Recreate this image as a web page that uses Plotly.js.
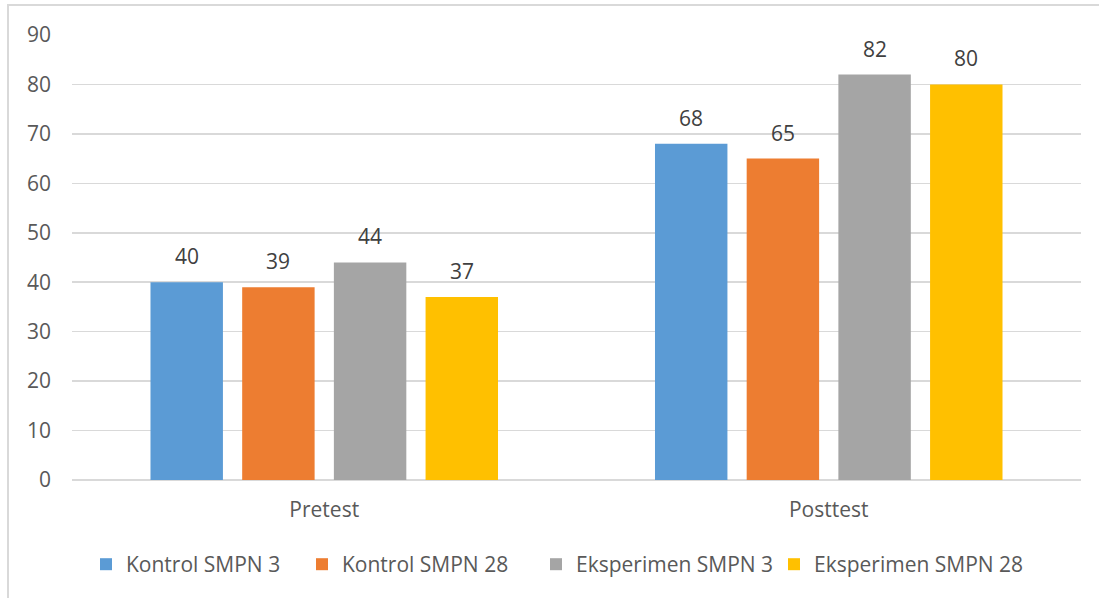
<!DOCTYPE html>
<html>
<head>
<meta charset="utf-8">
<script src="https://cdn.plot.ly/plotly-3.0.1.min.js"></script>
<style>
  html, body { margin: 0; padding: 0; background: #ffffff; }
  #wrap { position: relative; width: 1099px; height: 598px; overflow: hidden; }
  #frame { position: absolute; left: 7px; top: 4px; width: 1200px; height: 700px;
           border-left: 2px solid #d9d9d9; border-top: 2px solid #d9d9d9; }
  #chart { position: absolute; left: 0; top: 0; width: 1099px; height: 598px; }
</style>
</head>
<body>
<div id="wrap">
  <div id="frame"></div>
  <div id="chart"></div>
</div>
<script>
const categories = ["Pretest", "Posttest"];
const seriesNames = ["Kontrol SMPN 3", "Kontrol SMPN 28", "Eksperimen SMPN 3", "Eksperimen SMPN 28"];
const kontrolSMPN3 = [40, 68];
const kontrolSMPN28 = [39, 65];
const eksperimenSMPN3 = [44, 82];
const eksperimenSMPN28 = [37, 80];
const yTicks = [0, 10, 20, 30, 40, 50, 60, 70, 80, 90];

const seriesValues = [kontrolSMPN3, kontrolSMPN28, eksperimenSMPN3, eksperimenSMPN28];
const colors = ["#5B9BD5", "#ED7D31", "#A5A5A5", "#FFC000"];
const FONT = "Open Sans, Noto Sans, sans-serif";

// layout geometry (pixels)
const W = 1099, H = 598;
const M = { l: 72, r: 18, t: 35, b: 118 };
const plotW = W - M.l - M.r;
const legendSquarePx = [100, 316, 550, 788];
const legendIds = ["legend", "legend2", "legend3", "legend4"];

const traces = seriesValues.map((vals, i) => ({
  type: "bar",
  name: seriesNames[i],
  x: categories,
  y: vals,
  legend: legendIds[i],
  marker: { color: colors[i], line: { width: 0 } },
  hoverinfo: "x+y+name"
}));

// data labels above bars (pixel offset per bar slot in group)
const slotPx = 91.7;
const annotations = [];
seriesValues.forEach((vals, i) => {
  vals.forEach((v, j) => {
    annotations.push({
      xref: "x", yref: "y",
      x: categories[j], y: v,
      xshift: (i - 1.5) * slotPx,
      yshift: 10,
      yanchor: "bottom",
      text: String(v),
      showarrow: false,
      font: { family: FONT, size: 21, color: "#404040" }
    });
  });
});

const layout = {
  width: W, height: H,
  margin: M,
  paper_bgcolor: "rgba(0,0,0,0)",
  plot_bgcolor: "rgba(0,0,0,0)",
  barmode: "group",
  bargap: 0.273,
  bargroupgap: 0.21,
  showlegend: true,
  xaxis: {
    type: "category",
    showgrid: false,
    showline: false,
    zeroline: false,
    ticks: "",
    ticklabelstandoff: 15,
    tickfont: { family: FONT, size: 21, color: "#595959" }
  },
  yaxis: {
    range: [0, 90],
    tickvals: yTicks,
    ticktext: yTicks.map(String),
    showgrid: true,
    gridcolor: "#d9d9d9",
    gridwidth: 1.5,
    zeroline: true,
    zerolinecolor: "#d9d9d9",
    zerolinewidth: 1.5,
    showline: false,
    ticks: "",
    ticklabelstandoff: 20,
    tickfont: { family: FONT, size: 21, color: "#595959" }
  },
  annotations: annotations
};

legendIds.forEach((id, i) => {
  layout[id] = {
    orientation: "h",
    x: (legendSquarePx[i] - 14 - M.l) / plotW, xanchor: "left",
    y: -0.19, yanchor: "middle",
    bgcolor: "rgba(0,0,0,0)",
    font: { family: FONT, size: 21, color: "#595959" },
    itemwidth: 30
  };
});

Plotly.newPlot("chart", traces, layout, { displayModeBar: false, staticPlot: true });
</script>
</body>
</html>
